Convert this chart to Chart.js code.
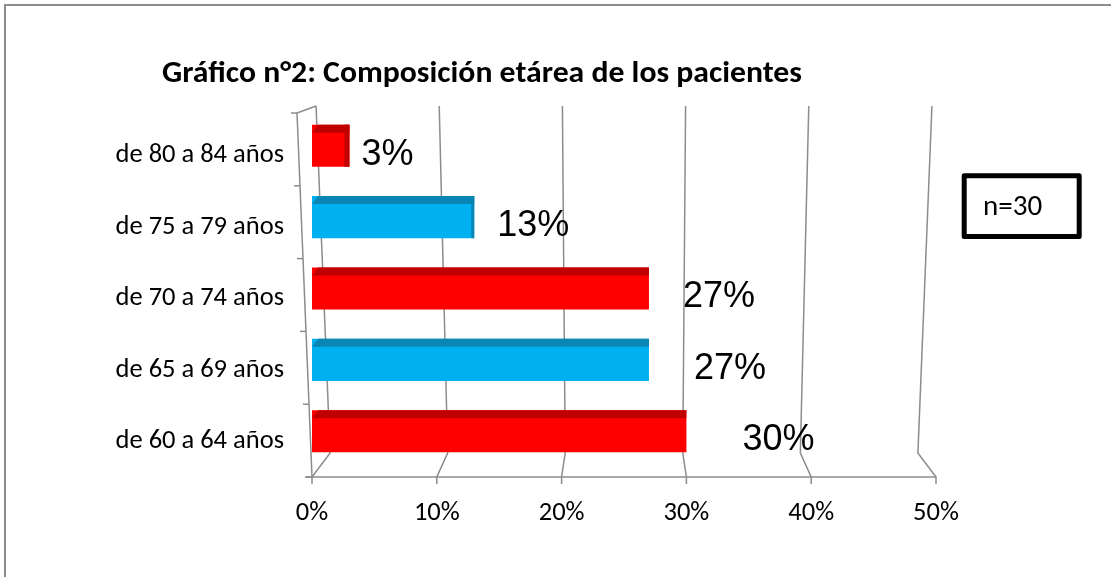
<!DOCTYPE html>
<html>
<head>
<meta charset="utf-8">
<script src="https://cdn.jsdelivr.net/npm/chart.js@4"></script>
<style>
  html, body { margin: 0; padding: 0; background: #ffffff; }
  #c { display: block; }
</style>
</head>
<body>
<canvas id="c" width="1111" height="577"></canvas>
<script>
// ---- data ----
const chartTitle = 'Gráfico n°2: Composición etárea de los pacientes';
const categories = ['de 80 a 84 años', 'de 75 a 79 años', 'de 70 a 74 años', 'de 65 a 69 años', 'de 60 a 64 años'];
const values = [3, 13, 27, 27, 30];
const valueLabels = ['3%', '13%', '27%', '27%', '30%'];
const xTickValues = [0, 10, 20, 30, 40, 50];
const noteText = 'n=30';

// ---- styles ----
const faceColors = ['#FF0000', '#00B0F0', '#FF0000', '#00B0F0', '#FF0000'];
const topColors  = ['#C00000', '#0A86B4', '#C00000', '#0A86B4', '#C00000'];
const gridColor = '#8c8c8c';
const labelFont = '"Carlito", "Open Sans", sans-serif';

const decorPlugin = {
  id: 'decor',
  beforeDatasetsDraw(chart) {
    const { ctx, chartArea: { left, right, top, bottom }, scales: { x } } = chart;
    const cx = (left + right) / 2;
    const topY = top - 4, backY = bottom - 14, floorY = bottom + 10;
    ctx.save();
    ctx.strokeStyle = gridColor;
    ctx.lineWidth = 1.5;
    // perspective gridlines
    xTickValues.forEach(v => {
      const f = x.getPixelForValue(v);
      ctx.beginPath();
      ctx.moveTo(cx + (f - cx) * 0.987, topY);
      ctx.lineTo(cx + (f - cx) * 0.942, backY);
      ctx.lineTo(f, floorY);
      ctx.lineTo(f, floorY + 7);
      ctx.stroke();
    });
    // floor front edge
    ctx.beginPath();
    ctx.moveTo(left - 7, floorY);
    ctx.lineTo(x.getPixelForValue(xTickValues[xTickValues.length - 1]), floorY);
    ctx.stroke();
    // left wall
    const wx0 = left - 15, wy0 = top + 3;
    ctx.beginPath();
    ctx.moveTo(cx + (left - cx) * 0.987, topY);
    ctx.lineTo(wx0, wy0);
    ctx.lineTo(left, floorY);
    ctx.stroke();
    for (let i = 0; i <= categories.length; i++) {
      const t = i / categories.length;
      const yy = wy0 + t * (floorY - wy0);
      const xx = wx0 + t * (left - wx0);
      ctx.beginPath();
      ctx.moveTo(xx, yy);
      ctx.lineTo(xx - 6, yy);
      ctx.stroke();
    }
    ctx.restore();
  },
  afterDatasetsDraw(chart) {
    const { ctx, chartArea: { left, right } } = chart;
    const cx = (left + right) / 2;
    const meta = chart.getDatasetMeta(0);
    ctx.save();
    meta.data.forEach((bar, i) => {
      const { x: xe, y, base, height } = bar.getProps(['x', 'y', 'base', 'height'], true);
      const t = y - height / 2;
      ctx.fillStyle = topColors[i];
      ctx.beginPath();
      ctx.moveTo(base + 6, t);
      ctx.lineTo(xe, t);
      ctx.lineTo(xe, t + 8);
      ctx.lineTo(base, t + 8);
      ctx.closePath();
      ctx.fill();
      if (xe < cx) {
        const w = Math.min(5, (cx - xe) / 50);
        ctx.fillRect(xe - w, t, w, height);
      }
      // value label (perspective: offset grows toward the front rows)
      ctx.fillStyle = '#000';
      ctx.font = '36px "Liberation Sans", Arial, sans-serif';
      ctx.textBaseline = 'middle';
      ctx.textAlign = 'left';
      ctx.fillText(valueLabels[i], xe + 12 + 11 * i, y + 9);
    });
    ctx.restore();
  },
  afterDraw(chart) {
    const { ctx } = chart;
    ctx.save();
    // outer frame (top and left)
    ctx.fillStyle = gridColor;
    ctx.fillRect(4, 4, 1107, 2);
    ctx.fillRect(4, 4, 2, 573);
    // title
    ctx.fillStyle = '#000';
    ctx.font = 'bold 30px "Carlito", "Open Sans", sans-serif';
    ctx.textBaseline = 'alphabetic';
    ctx.textAlign = 'left';
    const target = 640;
    const w = ctx.measureText(chartTitle).width;
    ctx.translate(162, 82);
    ctx.scale(target / w, 1);
    ctx.fillText(chartTitle, 0, 0);
    ctx.restore();
    // n=30 box
    ctx.save();
    ctx.strokeStyle = '#000';
    ctx.lineWidth = 5;
    ctx.lineJoin = 'round';
    ctx.strokeRect(964.2, 175.8, 115, 60.7);
    ctx.fillStyle = '#000';
    ctx.font = '29px ' + labelFont;
    ctx.textBaseline = 'alphabetic';
    ctx.textAlign = 'left';
    ctx.fillText(noteText, 983, 215);
    ctx.restore();
  }
};

new Chart(document.getElementById('c'), {
  type: 'bar',
  data: {
    labels: categories,
    datasets: [{
      data: values,
      backgroundColor: faceColors,
      borderWidth: 0,
      categoryPercentage: 1.0,
      barPercentage: 0.59
    }]
  },
  options: {
    indexAxis: 'y',
    responsive: false,
    animation: false,
    devicePixelRatio: 1,
    layout: { padding: { left: 0, right: 175, top: 110, bottom: 0 } },
    plugins: {
      legend: { display: false },
      title: { display: false },
      tooltip: { enabled: false }
    },
    scales: {
      x: {
        min: 0, max: 50,
        ticks: {
          stepSize: 10,
          callback: v => v + '%',
          color: '#000',
          font: { family: labelFont, size: 26.5 },
          padding: 30,
          maxRotation: 0
        },
        grid: { display: false, drawTicks: false },
        border: { display: false },
        afterFit: s => { s.height = 110; }
      },
      y: {
        ticks: {
          color: '#000',
          font: { family: labelFont, size: 26.5 },
          padding: 28,
          labelOffset: 10
        },
        grid: { display: false, drawTicks: false },
        border: { display: false },
        afterFit: s => { s.width = 312; }
      }
    }
  },
  plugins: [decorPlugin]
});
</script>
</body>
</html>
